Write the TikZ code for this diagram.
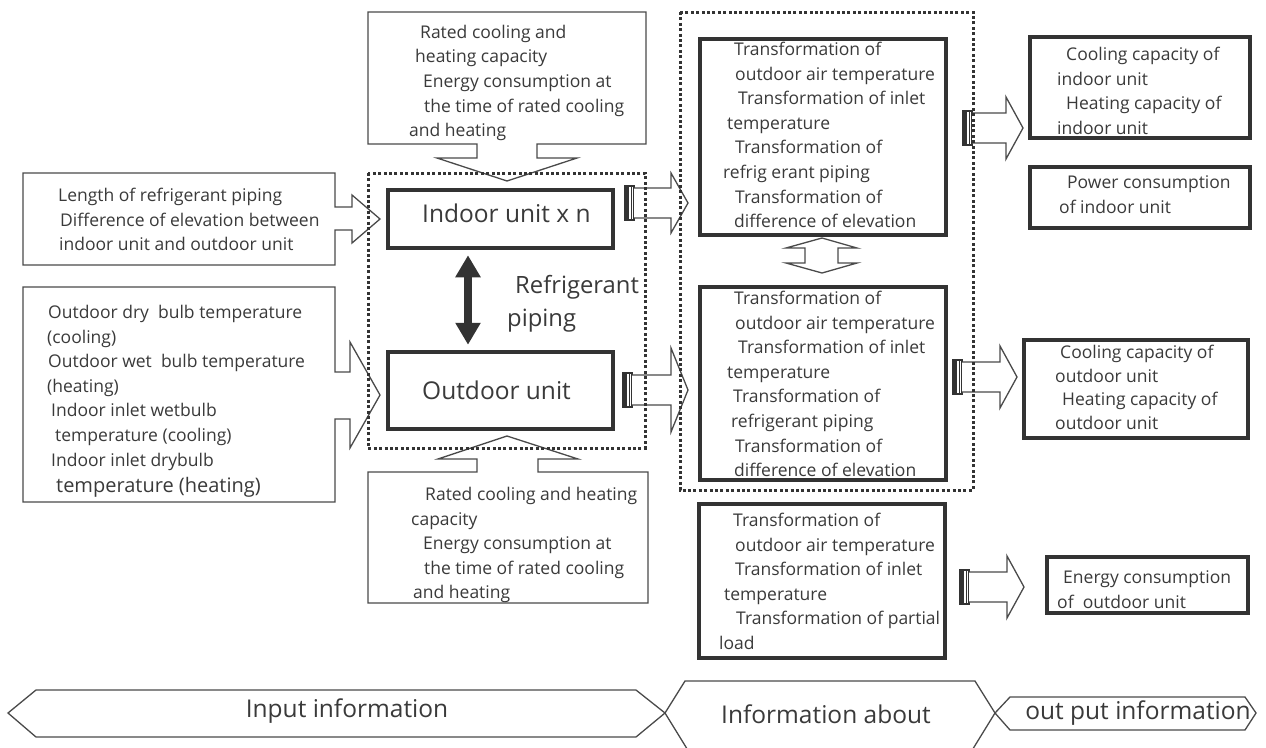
\documentclass[tikz,border=0pt]{standalone}
\usepackage{fontspec}
\setmainfont{Open Sans}
\usetikzlibrary{arrows.meta,calc}
\definecolor{tc}{HTML}{3A3A3A}
\definecolor{lc}{HTML}{4A4A4A}
\definecolor{dk}{HTML}{333333}
\tikzset{
  txt/.style={font=\fontsize{17.5}{24.6}\selectfont, align=left, inner sep=0pt, anchor=north west, text=tc},
  thinline/.style={draw=lc, line width=1.3pt, line join=miter, fill=white},
  heavybox/.style={draw=dk, line width=4.5pt, rectangle, inner sep=0pt, fill=white},
  dots/.style={draw=dk, line width=3pt, dash pattern=on 3pt off 2.4pt},
  big/.style={font=\fontsize{24.5}{28}\selectfont, text=tc, inner sep=0pt},
  dblarrow/.style={draw=dk, line width=8pt, {Triangle[width=24pt,length=22pt]}-{Triangle[width=24pt,length=22pt]}},
}
\newcommand\tailarrow[4]{%
  \fill[dk] let \p1=#1 in (\x1,\y1-#3pt-2pt) rectangle (\x1+4pt,\y1+#3pt+2pt);
  \draw[dk,line width=1.2pt] let \p1=#1 in (\x1,\y1-#3pt-2pt) rectangle (\x1+9pt,\y1+#3pt+2pt)
      (\x1+6.5pt,\y1-#3pt-2pt) -- (\x1+6.5pt,\y1+#3pt+2pt);
  \draw[thinline] let \p1=#1, \p2=#2 in (\x1+9pt,\y1+#3pt) -- (\x2-17pt,\y1+#3pt) -- (\x2-17pt,\y1+#4pt)
      -- (\x2,\y1) -- (\x2-17pt,\y1-#4pt) -- (\x2-17pt,\y1-#3pt) -- (\x1+9pt,\y1-#3pt);
}
\begin{document}
\begin{tikzpicture}[x=1pt,y=-1pt]
\clip (0,0) rectangle (1266,747);
\fill[white] (0,0) rectangle (1266,747);

% ---------- input callouts ----------
\draw[thinline] (368,12) -- (646,12) -- (646,144) -- (537,144) -- (537,158) -- (577,158) -- (507,181)
  -- (437,158) -- (477,158) -- (477,144) -- (368,144) -- cycle;
\node[txt] (ratedtop) at (409,20.8) {\strut\hspace*{11pt}Rated cooling and\\\hspace*{6pt}heating capacity\\
  \hspace*{14pt}Energy consumption at\\\hspace*{15pt}the time of rated cooling\\and heating};

\draw[thinline] (23,173) -- (335,173) -- (335,207) -- (352,207) -- (352,195) -- (380,219) -- (352,243)
  -- (352,230) -- (335,230) -- (335,265) -- (23,265) -- cycle;
\node[txt] (pipinginfo) at (58,184) {\strut Length of refrigerant piping\\\hspace*{2pt}Difference of elevation between\\
  \hspace*{1pt}indoor unit and outdoor unit};

\draw[thinline] (23,287) -- (335,287) -- (335,372) -- (350,372) -- (350,342) -- (380,395) -- (350,448)
  -- (350,419) -- (335,419) -- (335,502) -- (23,502) -- cycle;
\node[txt] (tempinfo) at (47,301) {\strut\hspace*{1pt}Outdoor dry\ \ bulb temperature\\(cooling)\\
  \hspace*{1pt}Outdoor wet\ \ bulb temperature\\(heating)\\\hspace*{4pt}Indoor inlet wetbulb\\
  \hspace*{8pt}temperature (cooling)\\\hspace*{4pt}Indoor inlet drybulb\\[2pt]
  \hspace*{9pt}{\fontsize{20}{24.6}\selectfont temperature (heating)}};

\draw[thinline] (368,603) -- (648,603) -- (648,472) -- (538,472) -- (538,459) -- (578,459) -- (507,436)
  -- (438,459) -- (477,459) -- (477,472) -- (368,472) -- cycle;
\node[txt] (ratedbot) at (411,483) {\strut\hspace*{14pt}Rated cooling and heating\\capacity\\
  \hspace*{12pt}Energy consumption at\\\hspace*{13pt}the time of rated cooling\\\hspace*{2pt}and heating};

% ---------- units ----------
\node[heavybox, minimum width=225pt, minimum height=58pt] (indoor) at (500.5,219) {};
\node[big, anchor=west] (indoorlabel) at (422,213) {Indoor unit x n};
\node[heavybox, minimum width=225pt, minimum height=77pt] (outdoor) at (500.5,390.5) {};
\node[big, anchor=west] (outdoorlabel) at (422,390) {Outdoor unit};
\coordinate (dx) at (468,0);
\draw[dblarrow, shorten <=5pt, shorten >=5pt] (indoor.south -| dx) -- (outdoor.north -| dx);
\node[txt, font=\fontsize{23.8}{33}\selectfont] (refpipe) at (507,270) {\strut\hspace*{8pt}Refrigerant\\piping};

% ---------- transformation boxes ----------
\node[heavybox, minimum width=246pt, minimum height=196pt] (t1) at (823,137) {};
\node[txt] (t1text) at (723,38) {\strut\hspace*{11pt}Transformation of\\\hspace*{12pt}outdoor air temperature\\
  \hspace*{15pt}Transformation of inlet\\\hspace*{4pt}temperature\\\hspace*{12pt}Transformation of\\
  refrig erant piping\\\hspace*{12pt}Transformation of\\\hspace*{11pt}difference of elevation};

\node[heavybox, minimum width=246pt, minimum height=193pt] (t2) at (823,383.5) {};
\node[txt] (t2text) at (727,287) {\strut\hspace*{7pt}Transformation of\\\hspace*{8pt}outdoor air temperature\\
  \hspace*{11pt}Transformation of inlet\\temperature\\\hspace*{6pt}Transformation of\\
  \hspace*{4pt}refrigerant piping\\\hspace*{8pt}Transformation of\\\hspace*{7pt}difference of elevation};

\draw[thinline] (822,238) -- (857,248) -- (838,248) -- (838,263) -- (857,263) -- (822,273)
  -- (786,263) -- (805,263) -- (805,248) -- (786,248) -- cycle;

\node[heavybox, minimum width=246pt, minimum height=154pt] (t3) at (822,581) {};
\node[txt] (t3text) at (719,509) {\strut\hspace*{14pt}Transformation of\\\hspace*{16pt}outdoor air temperature\\
  \hspace*{16pt}Transformation of inlet\\\hspace*{5pt}temperature\\\hspace*{17pt}Transformation of partial\\load};

% ---------- outputs ----------
\node[heavybox, minimum width=220pt, minimum height=101pt] (out1) at (1140,87.5) {};
\node[txt] (out1text) at (1057,43) {\strut\hspace*{9pt}Cooling capacity of\\indoor unit\\
  \hspace*{9pt}Heating capacity of\\indoor unit};
\node[heavybox, minimum width=220pt, minimum height=61pt] (out2) at (1140,197.5) {};
\node[txt] (out2text) at (1059,171) {\strut\hspace*{8pt}Power consumption\\of indoor unit};
\node[heavybox, minimum width=224pt, minimum height=98pt] (out3) at (1136,389) {};
\node[txt, font=\fontsize{17.5}{23.5}\selectfont] (out3text) at (1055,342) {\strut\hspace*{5pt}Cooling capacity of\\outdoor unit\\
  \hspace*{7pt}Heating capacity of\\outdoor unit};
\node[heavybox, minimum width=201pt, minimum height=56pt] (out4) at (1147.5,585) {};
\node[txt] (out4text) at (1057,566) {\strut\hspace*{6pt}Energy consumption\\of\ \ outdoor unit};

% ---------- block arrows ----------
\coordinate (a1s) at (625,203); \coordinate (a1e) at (688,203);
\coordinate (a2s) at (623,390); \coordinate (a2e) at (688,390);
\coordinate (a3s) at (963,128); \coordinate (a3e) at (1023,128);
\coordinate (a4s) at (953,377); \coordinate (a4e) at (1017,377);
\coordinate (a5s) at (960,587); \coordinate (a5e) at (1024,587);
\tailarrow{(a1s)}{(a1e)}{15}{30}
\tailarrow{(a2s)}{(a2e)}{15}{42}
\tailarrow{(a3s)}{(a3e)}{15}{31}
\tailarrow{(a4s)}{(a4e)}{15}{31}
\tailarrow{(a5s)}{(a5e)}{15}{31}

% ---------- dotted groups ----------
\draw[dots] (368,173) rectangle (645,448);
\draw[dots] (680,12) rectangle (973,490);

% ---------- bottom banners ----------
\draw[thinline] (8,713) -- (36,690) -- (636,690) -- (665,713) -- (636,737) -- (36,737) -- cycle;
\node[big] (inputinfo) at (347,711) {Input information};
\draw[thinline] (665,713) -- (685,681) -- (975,681) -- (995,713) -- (971,752) -- (689,752) -- cycle;
\node[big] (infoabout) at (826,714) {Information about};
\draw[thinline] (995,713) -- (1010,697) -- (1245,697) -- (1256,713) -- (1245,730) -- (1010,730) -- cycle;
\node[big] (outinfo) at (1138,713) {out put information};
\end{tikzpicture}
\end{document}
